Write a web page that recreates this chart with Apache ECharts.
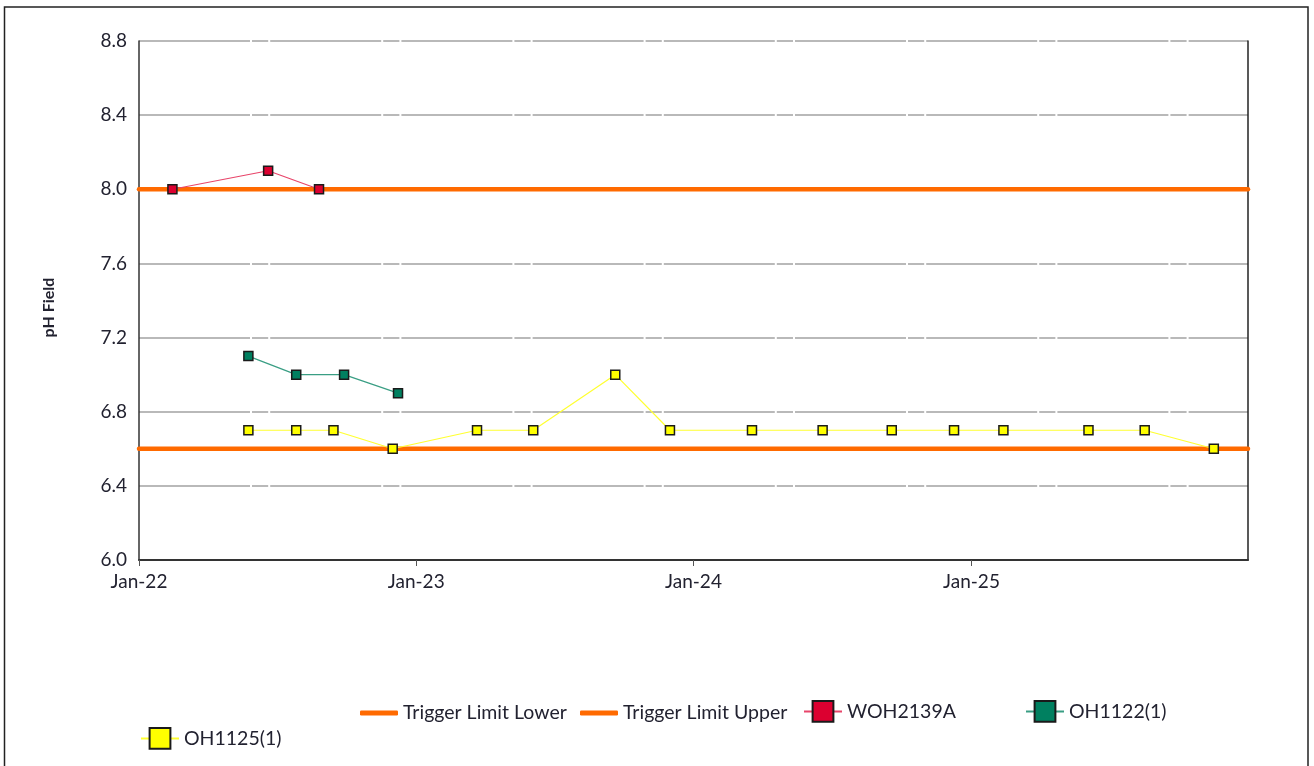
<!DOCTYPE html>
<html>
<head>
<meta charset="utf-8">
<script src="https://cdn.jsdelivr.net/npm/echarts@6/dist/echarts.min.js"></script>
<style>
  html, body { margin: 0; padding: 0; background: #ffffff; }
  #chart { width: 1314px; height: 766px; }
</style>
</head>
<body>
<div id="chart"></div>
<script>
// ---- data ----
const xStart = '2022-01-01';
const xEnd = '2025-12-31';
const yearTickDates = ['2022-01-01', '2023-01-01', '2024-01-01', '2025-01-01'];
const yearTickLabels = ['Jan-22', 'Jan-23', 'Jan-24', 'Jan-25'];

const triggerLowerValue = 6.6;
const triggerUpperValue = 8.0;

const woh2139aDates = ['2022-02-14', '2022-06-20', '2022-08-26'];
const woh2139aValues = [8.0, 8.1, 8.0];

const oh1122Dates = ['2022-05-25', '2022-07-27', '2022-09-28', '2022-12-08'];
const oh1122Values = [7.1, 7.0, 7.0, 6.9];

const oh1125Dates = ['2022-05-25', '2022-07-27', '2022-09-14', '2022-12-01',
  '2023-03-22', '2023-06-04', '2023-09-20', '2023-12-01',
  '2024-03-18', '2024-06-19', '2024-09-18', '2024-12-09',
  '2025-02-12', '2025-06-04', '2025-08-17', '2025-11-16'];
const oh1125Values = [6.7, 6.7, 6.7, 6.6, 6.7, 6.7, 7.0, 6.7,
  6.7, 6.7, 6.7, 6.7, 6.7, 6.7, 6.7, 6.6];

// ---- helpers ----
function toTs(s) {
  const p = s.split('-').map(Number);
  return new Date(p[0], p[1] - 1, p[2]).getTime();
}
function pairs(dates, vals) { return dates.map((d, i) => [toTs(d), vals[i]]); }

const tickValues = yearTickDates.map(toTs);
const tickMap = {};
tickValues.forEach((t, i) => { tickMap[t] = yearTickLabels[i]; });

const FONT = 'Lato';
const TXT = '#222230';

const chart = echarts.init(document.getElementById('chart'), null, { renderer: 'canvas' });

const markerSeries = (name, dates, vals, fill, lineColor) => ({
  name: name,
  type: 'line',
  data: pairs(dates, vals),
  symbol: 'rect',
  symbolSize: 9,
  showSymbol: true,
  lineStyle: { color: lineColor, width: 1.2 },
  itemStyle: { color: fill, borderColor: '#1a1a1a', borderWidth: 1.5 },
  emphasis: { disabled: true },
  animation: false,
  z: 3
});

const limitSeries = (name, value) => ({
  name: name,
  type: 'line',
  data: [[toTs(xStart), value], [toTs(xEnd), value]],
  symbol: 'none',
  clip: false,
  lineStyle: { color: '#FF6A00', width: 4.5, cap: 'round' },
  itemStyle: { color: '#FF6A00' },
  emphasis: { disabled: true },
  animation: false,
  z: 2
});

const legendBase = {
  orient: 'horizontal',
  itemGap: 0,
  padding: 0,
  selectedMode: false,
  textStyle: { fontFamily: FONT, fontSize: 19.5, color: TXT },
  itemWidth: 38
};

const option = {
  backgroundColor: '#ffffff',
  animation: false,
  grid: { left: 139, right: 66, top: 41, bottom: 206, containLabel: false },
  xAxis: {
    type: 'time',
    min: toTs(xStart),
    max: toTs(xEnd),
    splitNumber: 4,
    axisLine: { show: true, lineStyle: { color: '#333333', width: 2 } },
    axisTick: { show: true, length: 6, lineStyle: { color: '#555555', width: 1 } },
    splitLine: { show: false },
    axisLabel: {
      fontFamily: FONT, fontSize: 19, color: TXT, margin: 12,
      showMinLabel: true, hideOverlap: false,
      formatter: function (v) { return tickMap[v] !== undefined ? tickMap[v] : ''; }
    }
  },
  yAxis: [{
    type: 'value',
    min: 6.0,
    max: 8.8,
    interval: 0.4,
    name: 'pH Field',
    nameLocation: 'middle',
    nameRotate: 90,
    nameGap: 82,
    nameTextStyle: { fontFamily: FONT, fontSize: 16, fontWeight: 'bold', color: TXT, padding: [0, 14, 0, 0] },
    axisLine: { show: true, lineStyle: { color: '#333333', width: 1.5 } },
    axisTick: { show: false },
    axisLabel: {
      fontFamily: FONT, fontSize: 19, color: TXT, margin: 12,
      formatter: function (v) { return v.toFixed(1); }
    },
    splitLine: { show: true, lineStyle: { color: '#a3a3a3', width: 1.5, type: [111, 2, 16.2, 2] } }
  }, {
    type: 'value',
    position: 'right',
    min: 6.0,
    max: 8.8,
    interval: 0.4,
    axisLine: { show: true, lineStyle: { color: '#222222', width: 1.5 } },
    axisTick: { show: false },
    axisLabel: { show: false },
    splitLine: { show: false }
  }],
  legend: [
    Object.assign({}, legendBase, { left: 360, top: 703, itemHeight: 5, icon: 'roundRect', data: [{ name: 'Trigger Limit Lower', itemStyle: { color: '#FF6A00' } }] }),
    Object.assign({}, legendBase, { left: 580, top: 703, itemHeight: 5, icon: 'roundRect', data: [{ name: 'Trigger Limit Upper', itemStyle: { color: '#FF6A00' } }] }),
    Object.assign({}, legendBase, { left: 803, top: 700, itemHeight: 26, data: ['WOH2139A'] }),
    Object.assign({}, legendBase, { left: 1025, top: 700, itemHeight: 26, data: ['OH1122(1)'] }),
    Object.assign({}, legendBase, { left: 140, top: 727, itemHeight: 26, data: ['OH1125(1)'] })
  ],
  graphic: [{
    type: 'rect',
    silent: true,
    shape: { x: 4.5, y: 7, width: 1303.5, height: 800 },
    style: { fill: 'none', stroke: '#222222', lineWidth: 1.5 },
    z: 0
  }],
  series: [
    limitSeries('Trigger Limit Lower', triggerLowerValue),
    limitSeries('Trigger Limit Upper', triggerUpperValue),
    markerSeries('WOH2139A', woh2139aDates, woh2139aValues, '#DC0030', '#E8456A'),
    markerSeries('OH1122(1)', oh1122Dates, oh1122Values, '#008060', '#3A9E84'),
    markerSeries('OH1125(1)', oh1125Dates, oh1125Values, '#FFFF00', '#FFFF30')
  ]
};

chart.setOption(option);
</script>
</body>
</html>
